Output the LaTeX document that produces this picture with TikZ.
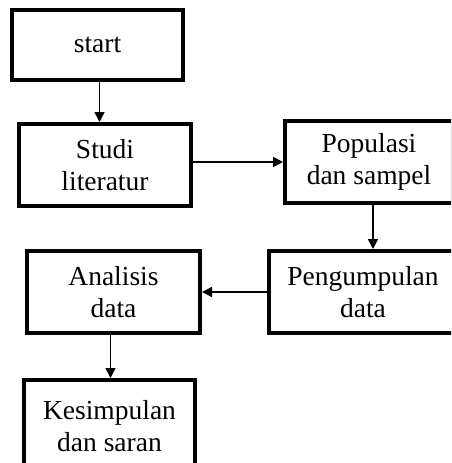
\documentclass[tikz,border=0pt]{standalone}
\usepackage{fontspec}
\setmainfont{Liberation Serif}
\usetikzlibrary{arrows.meta,positioning}

\begin{document}
\begin{tikzpicture}[
  x=1pt,y=-1pt,
  box/.style={draw=black,line width=4pt,fill=white,align=center,inner sep=0pt,
    minimum width=172pt,minimum height=82pt,font=\fontsize{27.5}{32}\selectfont},
  ln/.style={draw=black,line width=1.5pt,-{Triangle[length=10pt,width=10pt]}}
]
\useasboundingbox (0,0) rectangle (451,463);
\clip (0,0) rectangle (451,463);
\node[box,minimum width=171pt,minimum height=70pt] (start) at (97.5,45) {start};
\node[box] (studi) at (105,165) {Studi\\ literatur};
\node[box,minimum width=168pt] (pop) at (369,162) {Populasi\\ dan sampel};
\node[box,minimum width=188pt] (kumpul) at (363,292) {Pengumpulan\\ data};
\node[box,minimum width=173pt] (analisis) at (113.5,292) {Analisis\\ data};
\node[box,minimum width=171pt,minimum height=92pt] (simpul) at (109.5,426) {Kesimpulan\\ dan saran};

\draw[ln] ([xshift=2pt]start.south) -- ([xshift=2pt]start.south |- studi.north);
\draw[ln] (studi.east |- pop.west) -- (pop.west);
\draw[ln] ([xshift=4pt]pop.south) -- ([xshift=4pt]pop.south |- kumpul.north);
\draw[ln] (kumpul.west) -- (kumpul.west -| analisis.east);
\draw[ln] ([xshift=-3pt]analisis.south) -- ([xshift=-3pt]analisis.south |- simpul.north);
\end{tikzpicture}
\end{document}
